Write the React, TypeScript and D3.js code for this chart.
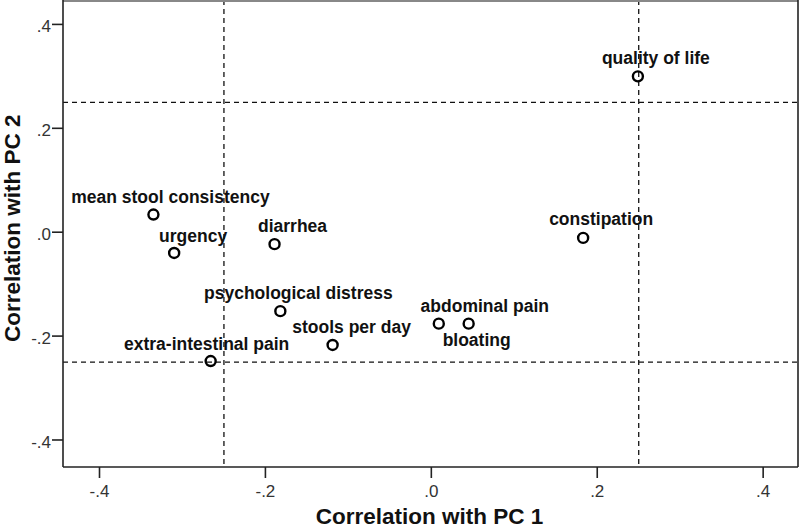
import React from "react";
import { scaleLinear, format } from "d3";

// variable names and their correlations with the two components
const variables = [
  "quality of life",
  "constipation",
  "mean stool consistency",
  "urgency",
  "diarrhea",
  "psychological distress",
  "stools per day",
  "extra-intestinal pain",
  "abdominal pain",
  "bloating",
];
const pc1 = [0.249, 0.183, -0.335, -0.31, -0.189, -0.182, -0.119, -0.266, 0.009, 0.045];
const pc2 = [0.3, -0.011, 0.034, -0.04, -0.023, -0.152, -0.217, -0.248, -0.176, -0.176];

// label placement relative to its point (dx, dy)
const labelOffsets: [number, number][] = [
  [18, -12], [18, -13], [17, -12], [19, -11], [18, -12],
  [18, -12], [19, -12], [-4, -11], [46, -12], [8, 22],
];

const xTicks = [-0.4, -0.2, 0, 0.2, 0.4];
const yTicks = [-0.4, -0.2, 0, 0.2, 0.4];
const cutoffs = [-0.25, 0.25];

const W = 800;
const H = 529;
const plot = { left: 63, right: 798, top: 0, bottom: 467 };

const fmt = (v: number) => format(".1f")(v).replace("0.", ".").replace("\u2212", "-");

export default function App() {
  const x = scaleLinear().domain([-0.444, 0.442]).range([plot.left, plot.right]);
  const y = scaleLinear().domain([-0.452, 0.447]).range([plot.bottom, plot.top]);

  return (
    <svg
      width={W}
      height={H}
      style={{ position: "absolute", left: 0, top: 0, background: "#fff" }}
      fontFamily="'Liberation Sans', Arial, sans-serif"
    >
      {/* reference lines */}
      {cutoffs.map((c) => (
        <line key={"v" + c} x1={x(c)} x2={x(c)} y1={plot.top} y2={plot.bottom}
          stroke="#111" strokeWidth={1.3} strokeDasharray="5,4" />
      ))}
      {cutoffs.map((c) => (
        <line key={"h" + c} x1={plot.left} x2={plot.right} y1={y(c)} y2={y(c)}
          stroke="#111" strokeWidth={1.3} strokeDasharray="5,4" />
      ))}

      {/* frame */}
      <line x1={plot.left} x2={plot.right} y1={plot.top + 1} y2={plot.top + 1} stroke="#888" strokeWidth={2} />
      <line x1={plot.left} x2={plot.left} y1={plot.top} y2={plot.bottom} stroke="#222" strokeWidth={1.6} />
      <line x1={plot.right} x2={plot.right} y1={plot.top} y2={plot.bottom} stroke="#222" strokeWidth={1.6} />
      <line x1={plot.left} x2={plot.right} y1={plot.bottom} y2={plot.bottom} stroke="#222" strokeWidth={1.6} />

      {/* x axis */}
      {xTicks.map((t) => (
        <g key={"xt" + t}>
          <line x1={x(t)} x2={x(t)} y1={plot.bottom} y2={plot.bottom + 11} stroke="#222" strokeWidth={1.6} />
          <text x={x(t)} y={plot.bottom + 30} textAnchor="middle" fontSize={17} fill="#333">
            {fmt(t)}
          </text>
        </g>
      ))}
      {/* y axis */}
      {yTicks.map((t) => (
        <g key={"yt" + t}>
          <line x1={plot.left - 11} x2={plot.left} y1={y(t)} y2={y(t)} stroke="#222" strokeWidth={1.6} />
          <text x={plot.left - 12} y={y(t) + 8} textAnchor="end" fontSize={17} fill="#333">
            {fmt(t)}
          </text>
        </g>
      ))}

      <text x={(plot.left + plot.right) / 2 - 1} y={524} textAnchor="middle" fontSize={22.5} fontWeight="bold" fill="#111">
        Correlation with PC 1
      </text>
      <text transform={`translate(20,${y(0) - 4}) rotate(-90)`} textAnchor="middle" fontSize={22.5} fontWeight="bold" fill="#111">
        Correlation with PC 2
      </text>

      {/* points */}
      {variables.map((name, i) => (
        <g key={name}>
          <circle cx={x(pc1[i])} cy={y(pc2[i])} r={5} fill="none" stroke="#000" strokeWidth={2.4} />
          <text
            x={x(pc1[i]) + labelOffsets[i][0]}
            y={y(pc2[i]) + labelOffsets[i][1]}
            textAnchor="middle"
            fontSize={17.5}
            fontWeight="bold"
            fill="#111"
          >
            {name}
          </text>
        </g>
      ))}
    </svg>
  );
}
